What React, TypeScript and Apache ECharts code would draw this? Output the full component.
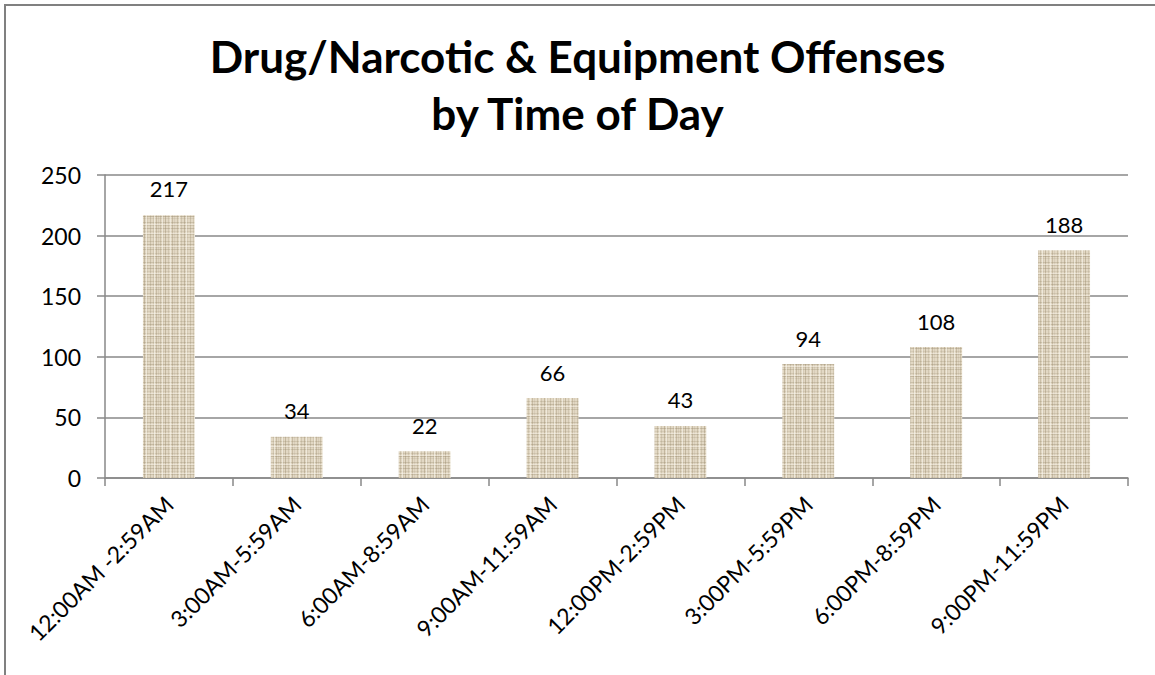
import React, { useEffect, useRef } from "react";
import * as echarts from "echarts";

const categories = [
  "12:00AM -2:59AM",
  "3:00AM-5:59AM",
  "6:00AM-8:59AM",
  "9:00AM-11:59AM",
  "12:00PM-2:59PM",
  "3:00PM-5:59PM",
  "6:00PM-8:59PM",
  "9:00PM-11:59PM",
];
const offenses = [217, 34, 22, 66, 43, 94, 108, 188];
const titleText = "Drug/Narcotic & Equipment Offenses\nby Time of Day";

function makeLinen(): string {
  const S = 40;
  const c = document.createElement("canvas");
  c.width = S;
  c.height = S;
  const ctx = c.getContext("2d");
  if (!ctx) return "";
  ctx.fillStyle = "#e2d8c4";
  ctx.fillRect(0, 0, S, S);
  const vx = [0, 3, 5, 8, 12, 14, 17, 21, 24, 27, 30, 33, 36, 38];
  const va = [0.3, 0.15, 0.4, 0.2, 0.35, 0.12, 0.3, 0.22, 0.4, 0.15, 0.3, 0.2, 0.35, 0.15];
  vx.forEach((x, i) => {
    ctx.fillStyle = `rgba(150,135,105,${va[i]})`;
    ctx.fillRect(x, 0, 1, S);
  });
  const hy = [1, 4, 7, 9, 13, 16, 18, 22, 25, 28, 31, 34, 37];
  const ha = [0.25, 0.35, 0.15, 0.3, 0.2, 0.4, 0.15, 0.3, 0.25, 0.35, 0.15, 0.3, 0.2];
  hy.forEach((y, i) => {
    ctx.fillStyle = `rgba(150,135,105,${ha[i]})`;
    ctx.fillRect(0, y, S, 1);
  });
  const lx = [2, 10, 19, 26, 34];
  lx.forEach((x) => {
    ctx.fillStyle = "rgba(250,247,238,0.55)";
    ctx.fillRect(x, 0, 1, S);
  });
  const ly = [6, 15, 24, 33];
  ly.forEach((y) => {
    ctx.fillStyle = "rgba(250,247,238,0.45)";
    ctx.fillRect(0, y, S, 1);
  });
  return c.toDataURL();
}

export default function App() {
  const ref = useRef<HTMLDivElement>(null);
  useEffect(() => {
    document.body.style.margin = "0";
    if (!ref.current) return;
    const chart = echarts.init(ref.current, undefined, { renderer: "svg" });
    const linen = makeLinen();
    const font = "Lato, 'Open Sans', sans-serif";
    chart.setOption({
      animation: false,
      backgroundColor: "#ffffff",
      title: {
        text: titleText,
        left: "center",
        top: 22,
        textStyle: {
          fontFamily: font,
          fontWeight: "bold",
          fontSize: 44,
          lineHeight: 57,
          color: "#000",
        },
      },
      graphic: [
        { type: "line", shape: { x1: 4, y1: 5, x2: 1155, y2: 5 }, style: { stroke: "#808080", lineWidth: 2 } },
        { type: "line", shape: { x1: 5, y1: 4, x2: 5, y2: 675 }, style: { stroke: "#808080", lineWidth: 2 } },
      ],
      grid: { left: 105, right: 27, top: 175, bottom: 197 },
      xAxis: {
        type: "category",
        data: categories,
        axisLine: { lineStyle: { color: "#888", width: 1.5 } },
        axisTick: { show: true, length: 8, lineStyle: { color: "#888", width: 1.5 } },
        axisLabel: {
          rotate: 45,
          interval: 0,
          margin: 22,
          fontFamily: font,
          fontSize: 23,
          color: "#000",
        },
      },
      yAxis: {
        type: "value",
        min: 0,
        max: 250,
        interval: 50,
        axisLine: { show: true, lineStyle: { color: "#888", width: 1.5 } },
        axisTick: { show: true, length: 8, lineStyle: { color: "#888", width: 1.5 } },
        splitLine: { lineStyle: { color: "#888", width: 1.5 } },
        axisLabel: { margin: 24, fontFamily: font, fontSize: 23, color: "#000" },
      },
      series: [
        {
          type: "bar",
          data: offenses,
          barWidth: 52,
          itemStyle: {
            color: linen ? { image: linen, repeat: "repeat" } : "#ddd3c0",
          },
          label: {
            show: true,
            position: "top",
            distance: 15,
            fontFamily: font,
            fontSize: 22,
            color: "#000",
          },
        },
      ],
    });
    return () => chart.dispose();
  }, []);
  return <div ref={ref} style={{ width: 1155, height: 675 }} />;
}
